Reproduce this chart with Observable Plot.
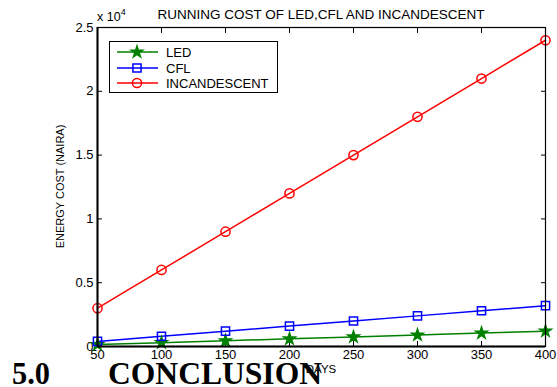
<!DOCTYPE html>
<html>
<head>
<meta charset="utf-8">
<script src="https://cdn.jsdelivr.net/npm/d3@7"></script>
<script src="https://cdn.jsdelivr.net/npm/@observablehq/plot@0.6"></script>
<style>
  html, body { margin: 0; padding: 0; background: #fff; }
  #chart { position: relative; width: 557px; height: 387px; overflow: hidden; }
  #chart svg { display: block; }
</style>
</head>
<body>
<div id="chart"></div>
<script>
// Running cost (naira) over days for three lamp types
const days = [50, 100, 150, 200, 250, 300, 350, 400];
const ledCost = [150, 300, 450, 600, 750, 900, 1050, 1200];
const cflCost = [400, 800, 1200, 1600, 2000, 2400, 2800, 3200];
const incandescentCost = [3000, 6000, 9000, 12000, 15000, 18000, 21000, 24000];

const seriesNames = ["LED", "CFL", "INCANDESCENT"];
const seriesColors = ["#008000", "#0000ff", "#ff0000"];
const seriesSymbols = ["star", "square", "circle"];
const xTicks = [50, 100, 150, 200, 250, 300, 350, 400];
const yTicks = [0, 5000, 10000, 15000, 20000, 25000];

const seriesValues = [ledCost, cflCost, incandescentCost];
const rows = seriesNames.flatMap((name, i) =>
  days.map((d, j) => ({series: name, day: d, cost: seriesValues[i][j]}))
);

const W = 557, H = 387;
const mL = 97, mR = 12, mT = 27, mB = 41;
const font = "'Liberation Sans', Arial, Helvetica, sans-serif";
const markerR = {LED: 3.6, CFL: 4.6, INCANDESCENT: 4.6};

const dotMark = (name, i) => Plot.dot(rows.filter(r => r.series === name), {
  x: "day", y: "cost",
  symbol: () => seriesSymbols[i],
  r: markerR[name],
  stroke: seriesColors[i],
  strokeWidth: 1.5,
  fill: name === "LED" ? seriesColors[i] : "none"
});

const plot = Plot.plot({
  width: W, height: H,
  marginLeft: mL, marginRight: mR, marginTop: mT, marginBottom: mB,
  style: {fontFamily: font, fontSize: "13px", color: "#000", background: "#fff"},
  x: {domain: [50, 400], ticks: xTicks, label: null},
  y: {domain: [0, 25000], ticks: yTicks, label: null, tickFormat: d => String(d / 10000)},
  symbol: {domain: seriesSymbols, range: seriesSymbols},
  marks: [
    Plot.axisX({anchor: "bottom", ticks: xTicks, tickSize: -5, tickPadding: 8, label: null, tickFormat: d => String(d), fontSize: 13}),
    Plot.axisX({anchor: "top", ticks: xTicks, tickSize: -5, text: null, label: null}),
    Plot.axisY({anchor: "left", ticks: yTicks, tickSize: -5, tickPadding: 9, label: null, tickFormat: d => String(d / 10000), fontSize: 13}),
    Plot.axisY({anchor: "right", ticks: yTicks, tickSize: -5, text: null, label: null}),
    Plot.line(rows, {x: "day", y: "cost", z: "series", stroke: d => seriesColors[seriesNames.indexOf(d.series)], strokeWidth: 1.5}),
    ...seriesNames.map(dotMark),
    Plot.frame({stroke: "#000", strokeWidth: 1.2}),
    Plot.ruleX([50], {stroke: "#000", strokeWidth: 2}),
    Plot.ruleY([0], {stroke: "#000", strokeWidth: 2})
  ]
});

const svg = d3.select(plot);

// chart title
svg.append("text")
  .attr("x", (mL + W - mR) / 2).attr("y", 19)
  .attr("text-anchor", "middle")
  .attr("font-family", font).attr("font-size", 13.5)
  .text("RUNNING COST OF LED,CFL AND INCANDESCENT");

// y multiplier
const mult = svg.append("text")
  .attr("x", 97).attr("y", 21)
  .attr("text-anchor", "start")
  .attr("font-family", font).attr("font-size", 12.5);
mult.append("tspan").text("x 10");
mult.append("tspan").attr("font-size", 9).attr("dy", -6).text("4");

// y axis label
svg.append("text")
  .attr("transform", `translate(64,${(mT + H - mB) / 2}) rotate(-90)`)
  .attr("text-anchor", "middle")
  .attr("font-family", font).attr("font-size", 11)
  .text("ENERGY COST (NAIRA)");

// x axis label
svg.append("text")
  .attr("x", (mL + W - mR) / 2).attr("y", 373)
  .attr("text-anchor", "middle")
  .attr("font-family", font).attr("font-size", 11.5)
  .text("DAYS");

// legend
const lg = svg.append("g");
lg.append("rect")
  .attr("x", 109.5).attr("y", 41.5).attr("width", 168).attr("height", 51)
  .attr("fill", "#fff").attr("stroke", "#000").attr("stroke-width", 1);
const legendY = [52, 68, 83];
const symbolTypes = {star: d3.symbolStar, square: d3.symbolSquare, circle: d3.symbolCircle};
seriesNames.forEach((name, i) => {
  const y = legendY[i];
  lg.append("line").attr("x1", 117).attr("x2", 158).attr("y1", y).attr("y2", y)
    .attr("stroke", seriesColors[i]).attr("stroke-width", 1.5);
  const r = markerR[name];
  lg.append("path")
    .attr("d", d3.symbol(symbolTypes[seriesSymbols[i]], Math.PI * r * r)())
    .attr("transform", `translate(137,${y})`)
    .attr("fill", name === "LED" ? seriesColors[i] : "none")
    .attr("stroke", seriesColors[i]).attr("stroke-width", 1.5);
  lg.append("text").attr("x", 166).attr("y", y + 4.5)
    .attr("text-anchor", "start")
    .attr("font-family", font).attr("font-size", 13)
    .text(name);
});

// section heading below the chart
const heading = svg.append("g")
  .attr("text-anchor", "start")
  .attr("font-family", "'Liberation Serif', 'Times New Roman', serif")
  .attr("font-weight", "bold").attr("font-size", 31).attr("fill", "#000");
heading.append("text").attr("x", 12).attr("y", 384)
  .attr("textLength", 38).attr("lengthAdjust", "spacingAndGlyphs").text("5.0");
heading.append("text").attr("x", 108).attr("y", 384)
  .attr("textLength", 214).attr("lengthAdjust", "spacingAndGlyphs").text("CONCLUSION");

document.getElementById("chart").appendChild(plot);
</script>
</body>
</html>
